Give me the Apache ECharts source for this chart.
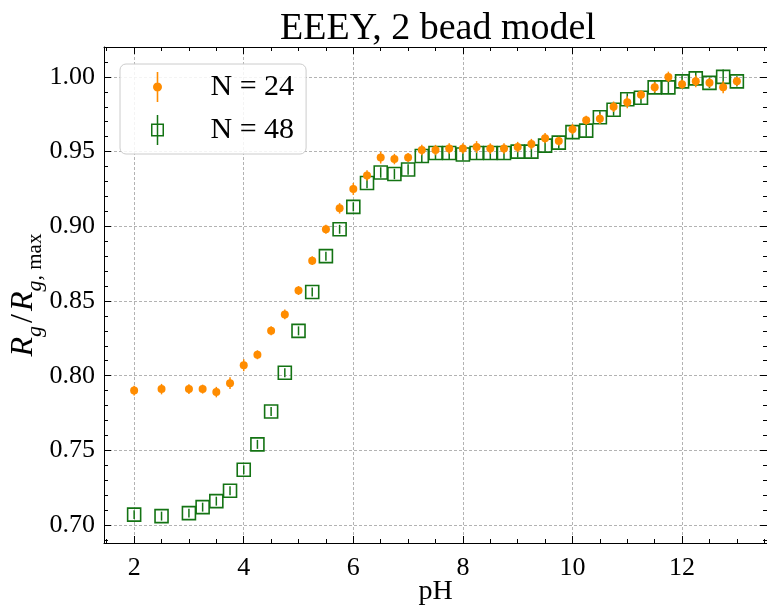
<!DOCTYPE html>
<html>
<head>
    <meta charset="UTF-8">
    <title>EEEY, 2 bead model</title>
    <script src="https://cdn.jsdelivr.net/npm/echarts/dist/echarts.min.js"></script>
    <style>
        html, body { margin: 0; padding: 0; background: #fff; }
        #chart { width: 767px; height: 610px; }
    </style>
</head>
<body>
<div id="chart"></div>
<script type="text/javascript">
    // pH values of the runs
    var ph = [2, 2.5, 3, 3.25, 3.5, 3.75, 4, 4.25, 4.5, 4.75, 5, 5.25, 5.5, 5.75, 6, 6.25, 6.5, 6.75, 7,
        7.25, 7.5, 7.75, 8, 8.25, 8.5, 8.75, 9, 9.25, 9.5, 9.75, 10, 10.25, 10.5, 10.75, 11, 11.25,
        11.5, 11.75, 12, 12.25, 12.5, 12.75, 13];

    // N = 24
    var rg24 = [0.790, 0.791, 0.791, 0.791, 0.789, 0.795, 0.807, 0.814, 0.830, 0.841, 0.857, 0.877, 0.898, 0.912, 0.925,
        0.934, 0.946, 0.945, 0.946, 0.951, 0.951, 0.952, 0.952, 0.953, 0.952, 0.952, 0.953, 0.955, 0.959, 0.957,
        0.965, 0.971, 0.972, 0.980, 0.983, 0.988, 0.993, 1.000, 0.995, 0.997, 0.996, 0.993, 0.997];
    var err24 = [0.0033, 0.0035, 0.0033, 0.0030, 0.0035, 0.0040, 0.0040, 0.0030, 0.0030, 0.0033, 0.0030, 0.0030, 0.0030, 0.0035, 0.0040,
        0.0035, 0.0040, 0.0035, 0.0030, 0.0035, 0.0035, 0.0035, 0.0035, 0.0040, 0.0035, 0.0035, 0.0035, 0.0035, 0.0035, 0.0030,
        0.0035, 0.0030, 0.0035, 0.0035, 0.0040, 0.0030, 0.0035, 0.0035, 0.0030, 0.0040, 0.0030, 0.0040, 0.0030];

    // N = 48
    var rg48 = [0.707, 0.706, 0.708, 0.712, 0.716, 0.723, 0.737, 0.754, 0.776, 0.802, 0.830, 0.856, 0.880, 0.898, 0.913,
        0.929, 0.936, 0.935, 0.938, 0.947, 0.949, 0.949, 0.948, 0.949, 0.949, 0.949, 0.950, 0.950, 0.954, 0.956,
        0.963, 0.964, 0.973, 0.978, 0.985, 0.986, 0.993, 0.993, 0.997, 0.999, 0.996, 1.000, 0.997];
    var err48 = [0.0030, 0.0030, 0.0030, 0.0030, 0.0030, 0.0030, 0.0030, 0.0030, 0.0030, 0.0030, 0.0030, 0.0030, 0.0030, 0.0030, 0.0030,
        0.0035, 0.0035, 0.0035, 0.0035, 0.0045, 0.0040, 0.0040, 0.0040, 0.0040, 0.0040, 0.0040, 0.0040, 0.0040, 0.0040, 0.0040,
        0.0040, 0.0040, 0.0040, 0.0040, 0.0040, 0.0040, 0.0040, 0.0045, 0.0040, 0.0050, 0.0035, 0.0050, 0.0035];

    var orange = '#ff8c00';
    var green = '#137313';
    var serif = "'Liberation Serif', 'DejaVu Serif', serif";

    function pts(vals) {
        return ph.map(function (x, i) { return [x, vals[i]]; });
    }
    function bars(vals, errs) {
        return ph.map(function (x, i) { return [x, vals[i] - errs[i], vals[i] + errs[i]]; });
    }
    function errorBar(color) {
        return function (params, api) {
            var a = api.coord([api.value(0), api.value(1)]);
            var b = api.coord([api.value(0), api.value(2)]);
            return {
                type: 'line',
                shape: { x1: a[0], y1: a[1], x2: b[0], y2: b[1] },
                style: { stroke: color, lineWidth: 1.5 }
            };
        };
    }

    // legend icons: marker with its error bar
    var iconDot = 'path://M9.2,0 L10.8,0 L10.8,30 L9.2,30 Z M14.5,15 A4.5,4.5 0 1,1 5.5,15 A4.5,4.5 0 1,1 14.5,15 Z';
    var iconSquare = 'path://M3.5,8.5 H16.5 V21.5 H3.5 Z M5,10 V20 H15 V10 Z M9.25,0 H10.75 V30 H9.25 Z';

    var xCommon = {
        type: 'value', min: 1.45, max: 13.55,
        axisLine: { show: true, onZero: false, lineStyle: { color: '#000', width: 1 } },
        axisTick: { show: true, inside: true, length: 7, lineStyle: { color: '#000' } },
        minorTick: { show: true, splitNumber: 4, length: 4, lineStyle: { color: '#000' } }
    };
    var yCommon = {
        type: 'value', min: 0.688, max: 1.02,
        axisLine: { show: true, onZero: false, lineStyle: { color: '#000', width: 1 } },
        axisTick: { show: true, inside: true, length: 7, lineStyle: { color: '#000' } },
        minorTick: { show: true, splitNumber: 5, length: 4, lineStyle: { color: '#000' } }
    };

    var myChart = echarts.init(document.getElementById('chart'));
    var option = {
        animation: false,
        backgroundColor: '#fff',
        title: {
            text: 'EEEY, 2 bead model',
            left: 275, top: 5,
            textStyle: { fontFamily: serif, fontSize: 38, fontWeight: 'normal', color: '#000' }
        },
        grid: { left: 104, right: 0, top: 47, bottom: 67, outerBoundsMode: 'none', containLabel: false },
        legend: {
            orient: 'vertical', left: 120, top: 64,
            padding: [8, 12, 9, 31],
            itemGap: 13, itemWidth: 20, itemHeight: 30,
            backgroundColor: 'rgba(255,255,255,0.85)',
            borderColor: '#cccccc', borderWidth: 1, borderRadius: 6,
            textStyle: { fontFamily: serif, fontSize: 30, color: '#000', padding: [0, 0, 0, 38] },
            data: [
                { name: 'N = 24', icon: iconDot, itemStyle: { color: orange, borderWidth: 0 } },
                { name: 'N = 48', icon: iconSquare, itemStyle: { color: green, borderWidth: 0 } }
            ]
        },
        xAxis: [
            Object.assign({}, xCommon, {
                position: 'bottom',
                name: 'pH', nameLocation: 'middle', nameGap: 35, nameMoveOverlap: false,
                nameTextStyle: { fontFamily: serif, fontSize: 28, color: '#000' },
                axisLabel: { fontFamily: serif, fontSize: 26, color: '#000', margin: 12, showMinLabel: false, showMaxLabel: false },
                splitLine: { show: true, lineStyle: { color: '#a0a0a0', type: [3, 2], width: 0.8 } }
            }),
            Object.assign({}, xCommon, {
                position: 'top',
                axisLabel: { show: false },
                splitLine: { show: false }
            })
        ],
        yAxis: [
            Object.assign({}, yCommon, {
                position: 'left',
                name: '{i|R}{s|g}{n|/}{i|R}{s|g,}{m| max}',
                nameLocation: 'middle', nameGap: 58, nameRotate: 90, nameMoveOverlap: false,
                nameTextStyle: {
                    color: '#000',
                    rich: {
                        i: { fontFamily: serif, fontStyle: 'italic', fontSize: 32, color: '#000', verticalAlign: 'bottom', padding: [0, 0, 6, 0] },
                        n: { fontFamily: serif, fontSize: 32, color: '#000', verticalAlign: 'bottom', padding: [0, 3, 6, 3] },
                        s: { fontFamily: serif, fontStyle: 'italic', fontSize: 22, color: '#000', verticalAlign: 'bottom' },
                        m: { fontFamily: serif, fontSize: 21, color: '#000', verticalAlign: 'bottom' }
                    }
                },
                axisLabel: {
                    fontFamily: serif, fontSize: 26, color: '#000', margin: 9,
                    showMinLabel: false, showMaxLabel: false,
                    formatter: function (v) { return v.toFixed(2); }
                },
                splitLine: { show: true, lineStyle: { color: '#a0a0a0', type: [3, 2], width: 0.8 } }
            }),
            Object.assign({}, yCommon, {
                position: 'right',
                axisLabel: { show: false },
                splitLine: { show: false }
            })
        ],
        series: [
            {
                name: 'err48', type: 'custom', z: 2,
                renderItem: errorBar(green),
                data: bars(rg48, err48)
            },
            {
                name: 'N = 48', type: 'scatter', z: 3,
                symbol: 'rect', symbolSize: 13,
                itemStyle: { color: 'transparent', borderColor: green, borderWidth: 1.6, opacity: 1 },
                data: pts(rg48)
            },
            {
                name: 'err24', type: 'custom', z: 4,
                renderItem: errorBar(orange),
                data: bars(rg24, err24)
            },
            {
                name: 'N = 24', type: 'scatter', z: 5,
                symbol: 'circle', symbolSize: 8,
                itemStyle: { color: orange, opacity: 1 },
                data: pts(rg24)
            }
        ]
    };
    myChart.setOption(option);
</script>
</body>
</html>
